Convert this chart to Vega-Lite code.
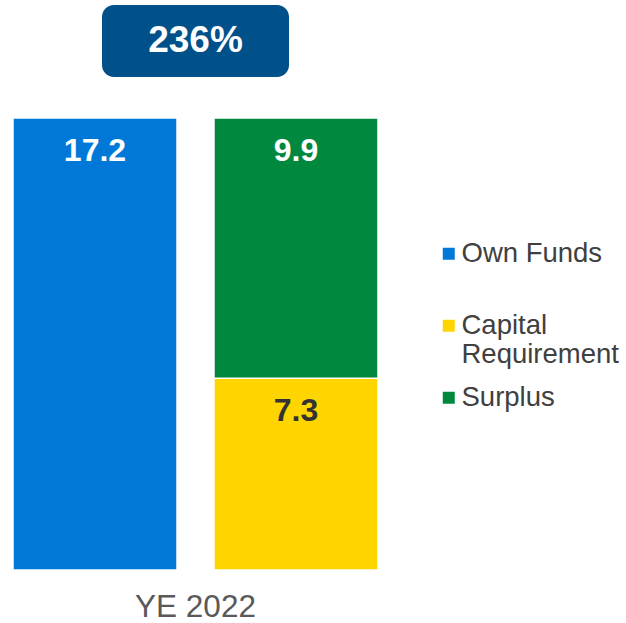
{
  "$schema": "https://vega.github.io/schema/vega-lite/v6.json",
  "autosize": "none",
  "width": 365,
  "height": 570,
  "padding": {"left": 13, "top": 0, "right": 248, "bottom": 53},
  "background": "white",
  "config": {"view": {"stroke": null}, "font": "Liberation Sans"},
  "data": {"values": [
    {"period": "YE 2022", "bar": "Own Funds", "category": "Own Funds", "value": 17.2, "label": "17.2"},
    {"period": "YE 2022", "bar": "Stacked", "category": "Capital Requirement", "value": 7.3, "label": "7.3"},
    {"period": "YE 2022", "bar": "Stacked", "category": "Surplus", "value": 9.9, "label": "9.9"}
  ]},
  "encoding": {
    "x": {"field": "period", "type": "nominal", "title": null,
      "scale": {"paddingInner": 0, "paddingOuter": 0},
      "axis": {"domain": false, "ticks": false, "labelAngle": 0, "labelFontSize": 31.5, "labelColor": "#595959", "labelPadding": 21, "labelFont": "Liberation Sans"}}
  },
  "layer": [
    {
      "mark": {"type": "bar", "stroke": "white", "strokeWidth": 1.5},
      "encoding": {
        "xOffset": {"field": "bar", "type": "nominal", "scale": {"domain": ["Own Funds", "Stacked"], "paddingInner": 0.184, "paddingOuter": 0}},
        "y": {"field": "value", "type": "quantitative", "stack": "zero", "scale": {"domain": [0, 21.69], "nice": false}, "axis": null},
        "color": {"field": "category", "type": "nominal",
          "scale": {"domain": ["Own Funds", "Capital Requirement", "Surplus"], "range": ["#0078D7", "#FFD500", "#00883F"]},
          "legend": {"title": null, "orient": "none", "legendX": 422, "legendY": 240,
            "symbolType": "square", "symbolSize": 144, "symbolStrokeWidth": 0,
            "labelFontSize": 27.5, "labelColor": "#404040", "labelFont": "Liberation Sans", "labelOffset": -1,
            "labelExpr": "datum.label === 'Capital Requirement' ? ['Capital', 'Requirement'] : datum.label",
            "gridAlign": "all", "rowPadding": 14, "labelLimit": 300}},
        "order": {"field": "category", "sort": "ascending"}
      }
    },
    {
      "mark": {"type": "text", "fontSize": 32, "fontWeight": "bold", "baseline": "middle", "dy": 33, "font": "Liberation Sans"},
      "encoding": {
        "xOffset": {"field": "bar", "type": "nominal", "scale": {"domain": ["Own Funds", "Stacked"], "paddingInner": 0.184, "paddingOuter": 0}},
        "y": {"field": "value", "type": "quantitative", "stack": "zero"},
        "detail": {"field": "category"},
        "order": {"field": "category", "sort": "ascending"},
        "text": {"field": "label"},
        "color": {"condition": {"test": "datum.category === 'Capital Requirement'", "value": "#333333"}, "value": "white"}
      }
    },
    {
      "data": {"values": [{"period": "YE 2022", "ratio": "236%", "top": 21.5, "bottom": 18.76, "mid": 20.13}]},
      "layer": [
        {
          "mark": {"type": "bar", "width": 187, "cornerRadius": 12, "color": "#00508A"},
          "encoding": {
            "y": {"field": "top", "type": "quantitative"},
            "y2": {"field": "bottom"}
          }
        },
        {
          "mark": {"type": "text", "fontSize": 37, "fontWeight": "bold", "color": "white", "baseline": "middle", "font": "Liberation Sans"},
          "encoding": {
            "y": {"field": "mid", "type": "quantitative"},
            "text": {"field": "ratio"}
          }
        }
      ]
    }
  ]
}
